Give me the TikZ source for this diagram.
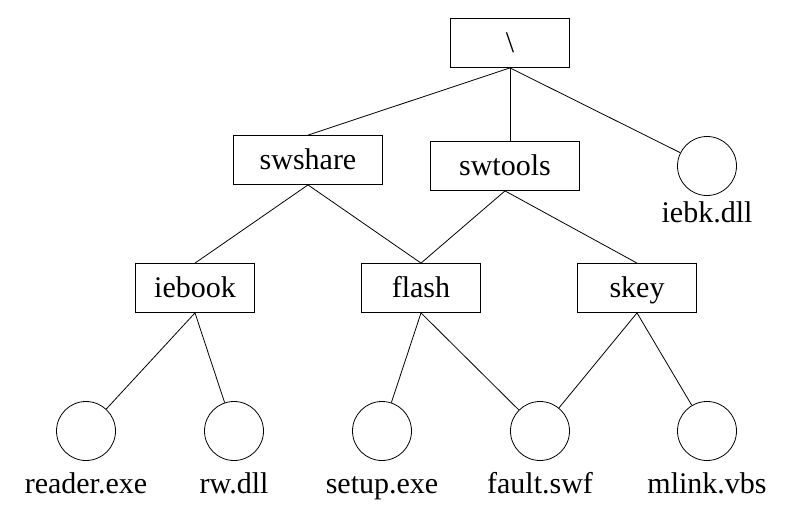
\documentclass[tikz,border=0pt]{standalone}
\usepackage{fontspec}
\setmainfont{Liberation Serif}
\usepackage{tikz}

\begin{document}
\begin{tikzpicture}[x=1pt,y=-1pt,
  dirbox/.style={draw, line width=0.8pt, minimum width=119pt, minimum height=49pt,
    inner sep=0pt, text height=21pt, text depth=3pt, font=\fontsize{30}{32}\selectfont},
  filenode/.style={draw, circle, line width=0.8pt, minimum size=59pt, inner sep=0pt},
  filename/.style={anchor=base, inner sep=0pt, font=\fontsize{30}{32}\selectfont},
  edge/.style={line width=0.8pt}]
  \useasboundingbox (0,0) rectangle (803,522);

  % directories
  \node[dirbox] (root) at (510,43) {\textbackslash};
  \node[dirbox, minimum width=149pt] (swshare) at (308,160) {swshare};
  \node[dirbox, minimum width=149pt] (swtools) at (505,166) {swtools};
  \node[dirbox] (iebook) at (195,288) {iebook};
  \node[dirbox] (flash) at (421,288) {flash};
  \node[dirbox] (skey) at (637,288) {skey};

  % files
  \node[filenode] (iebk) at (707,166) {};
  \node[filename] (iebklbl) at (707,222) {iebk.dll};
  \node[filenode] (reader) at (86,431) {};
  \node[filename] (readerlbl) at (86,493) {reader.exe};
  \node[filenode] (rw) at (234,431) {};
  \node[filename] (rwlbl) at (234,493) {rw.dll};
  \node[filenode] (setup) at (382,431) {};
  \node[filename] (setuplbl) at (382,493) {setup.exe};
  \node[filenode] (fault) at (540,431) {};
  \node[filename] (faultlbl) at (540,493) {fault.swf};
  \node[filenode] (mlink) at (707,431) {};
  \node[filename] (mlinklbl) at (707,493) {mlink.vbs};

  % connectors
  \draw[edge] (root.south) -- (swshare.north);
  \draw[edge] (root.south) -- (root.south |- swtools.north);
  \draw[edge] (root.south) -- (iebk);
  \draw[edge] (swshare.south) -- (iebook.north);
  \draw[edge] (swshare.south) -- (flash.north);
  \draw[edge] (swtools.south) -- (flash.north);
  \draw[edge] (swtools.south) -- (skey.north);
  \draw[edge] (iebook.south) -- (reader);
  \draw[edge] (iebook.south) -- (rw);
  \draw[edge] (flash.south) -- (setup);
  \draw[edge] (flash.south) -- (fault);
  \draw[edge] (skey.south) -- (fault);
  \draw[edge] (skey.south) -- (mlink);
\end{tikzpicture}
\end{document}
